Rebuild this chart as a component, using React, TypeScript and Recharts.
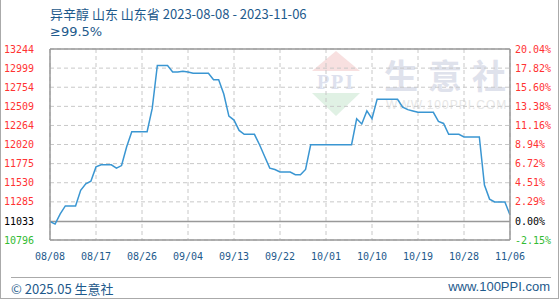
import { LineChart, Line, XAxis, YAxis, CartesianGrid, ReferenceLine } from "recharts";

// daily price, 2023-08-08 .. 2023-11-06 (91 days)
const prices = [
  11033, 11000, 11130, 11233, 11233, 11233, 11433, 11517, 11550, 11733,
  11760, 11760, 11760, 11717, 11750, 11990, 12183, 12183, 12183, 12183,
  12483, 13033, 13033, 13033, 12950, 12950, 12960, 12950, 12933, 12933,
  12933, 12933, 12850, 12850, 12667, 12383, 12333, 12200, 12150, 12150,
  12150, 12017, 11867, 11717, 11700, 11667, 11667, 11667, 11633, 11633,
  11700, 12017, 12017, 12017, 12017, 12017, 12017, 12017, 12017, 12017,
  12350, 12283, 12450, 12350, 12600, 12600, 12600, 12600, 12600, 12500,
  12467, 12450, 12433, 12433, 12433, 12433, 12317, 12290, 12150, 12150,
  12150, 12117, 12117, 12117, 12117, 11500, 11320, 11283, 11283, 11283,
  11117,
];

const basePrice = 11033;
const xTickDays = [0, 9, 18, 27, 36, 45, 54, 63, 72, 81, 90];
const xLabels = ["08/08", "08/17", "08/26", "09/04", "09/13", "09/22", "10/01", "10/10", "10/19", "10/28", "11/06"];
const priceTicks = [10796, 11033, 11285, 11530, 11775, 12020, 12264, 12509, 12754, 12999, 13244];
const pctTicks = [-2.15, 0, 2.29, 4.51, 6.72, 8.94, 11.16, 13.38, 15.6, 17.82, 20.04];

const data = prices.map((price, day) => ({
  day,
  price,
  pct: (price / basePrice - 1) * 100,
}));

const BLUE = "#1e5a8c";
const MONO = "'DejaVu Sans Mono', monospace";

const tickColor = (v: number, base: number) => (v > base ? "#ff3333" : v < base ? "#33bb33" : "#000");

const PriceTick = (props: any) => {
  const { x, y, payload } = props;
  return (
    <text x={x} y={y} dy="0.35em" textAnchor="end" fontSize={10} fontFamily={MONO} fill={tickColor(payload.value, basePrice)}>
      {payload.value}
    </text>
  );
};

const PctTick = (props: any) => {
  const { x, y, payload } = props;
  return (
    <text x={x} y={y} dy="0.35em" textAnchor="start" fontSize={10} fontFamily={MONO} fill={tickColor(payload.value, 0)}>
      {payload.value.toFixed(2) + "%"}
    </text>
  );
};

const Watermark = () => (
  <div style={{ position: "absolute", left: 0, top: 0, width: 560, height: 300 }}>
    <svg width={60} height={70} style={{ position: "absolute", left: 305, top: 48 }}>
      <polygon points="30,3 54,23 6,23" fill="#f8e0e0" />
      <text x={30} y={41} textAnchor="middle" fontSize={20} fontWeight="bold" fontFamily="'Liberation Serif', serif" fill="#dde1ee" letterSpacing={2}>
        PPI
      </text>
      <polygon points="6,45 54,45 30,68" fill="#e0f1e4" />
    </svg>
    <div
      style={{
        position: "absolute",
        left: 383,
        top: 50,
        fontSize: 34,
        letterSpacing: 10,
        color: "#dfe2ec",
        fontFamily: "'Noto Sans CJK SC', sans-serif",
        fontWeight: "bold",
      }}
    >
      生意社
    </div>
    <div
      style={{
        position: "absolute",
        left: 385,
        top: 98,
        fontSize: 12,
        letterSpacing: 1,
        color: "#e6e6e6",
        fontFamily: "'Liberation Sans', sans-serif",
      }}
    >
      WWW.100PPI.COM
    </div>
  </div>
);

export default function App() {
  return (
    <div
      style={{
        position: "absolute",
        left: 0,
        top: 0,
        width: 557,
        height: 298,
        borderLeft: "1px solid #aaa",
        borderRight: "1px solid #aaa",
        borderBottom: "1px solid #aaa",
        background: "#fff",
        overflow: "hidden",
        fontFamily: "'Noto Sans CJK SC', sans-serif",
      }}
    >
      <Watermark />
      <div style={{ position: "absolute", left: 49, top: 4, fontSize: 13, color: BLUE, whiteSpace: "nowrap" }}>
        异辛醇 山东 山东省 2023-08-08 - 2023-11-06
      </div>
      <div style={{ position: "absolute", left: 49, top: 24, fontSize: 13, color: BLUE, fontFamily: "'DejaVu Sans', sans-serif" }}>
        ≥99.5%
      </div>
      <div style={{ position: "absolute", left: -1, top: 0 }}>
        <LineChart width={560} height={300} data={data} margin={{ top: 49, right: 0, bottom: 30, left: 0 }}>
          <CartesianGrid yAxisId="left" stroke="#c8c8c8" strokeDasharray="4 3" />
          <XAxis
            dataKey="day"
            type="number"
            domain={[0, 90]}
            ticks={xTickDays}
            tickFormatter={(d: number) => xLabels[xTickDays.indexOf(d)]}
            axisLine={{ stroke: "#999", strokeWidth: 1.5 }}
            tickLine={false}
            tickSize={0}
            tickMargin={13}
            height={30}
            tick={{ fontSize: 10, fontFamily: MONO, fill: BLUE }}
            interval={0}
          />
          <YAxis
            yAxisId="left"
            domain={[10796, 13244]}
            ticks={priceTicks}
            width={50}
            axisLine={{ stroke: "#999", strokeWidth: 1.5 }}
            tickLine={false}
            tickSize={0}
            tickMargin={16}
            tick={<PriceTick />}
            interval={0}
          />
          <YAxis
            yAxisId="right"
            orientation="right"
            domain={[-2.15, 20.04]}
            ticks={pctTicks}
            width={50}
            axisLine={{ stroke: "#999", strokeWidth: 1.5 }}
            tickLine={false}
            tickSize={0}
            tickMargin={5}
            tick={<PctTick />}
            interval={0}
          />
          <ReferenceLine yAxisId="left" y={13244} stroke="#999" strokeWidth={1.5} />
          <ReferenceLine yAxisId="left" y={basePrice} stroke="#999" strokeWidth={1.5} />
          <Line yAxisId="right" dataKey="pct" stroke="none" dot={false} activeDot={false} isAnimationActive={false} />
          <Line
            yAxisId="left"
            dataKey="price"
            type="linear"
            stroke="#3a96d2"
            strokeWidth={1.5}
            dot={false}
            activeDot={false}
            isAnimationActive={false}
          />
        </LineChart>
      </div>
      <div style={{ position: "absolute", left: 10, top: 277, width: 540, borderTop: "1px solid #aaa" }} />
      <div style={{ position: "absolute", left: 10, top: 279, fontSize: 13, color: BLUE }}>© 2025.05 生意社</div>
      <div style={{ position: "absolute", right: 8, top: 279, fontSize: 13, color: BLUE, fontFamily: "'Liberation Sans', sans-serif" }}>
        www.100PPI.com
      </div>
    </div>
  );
}
